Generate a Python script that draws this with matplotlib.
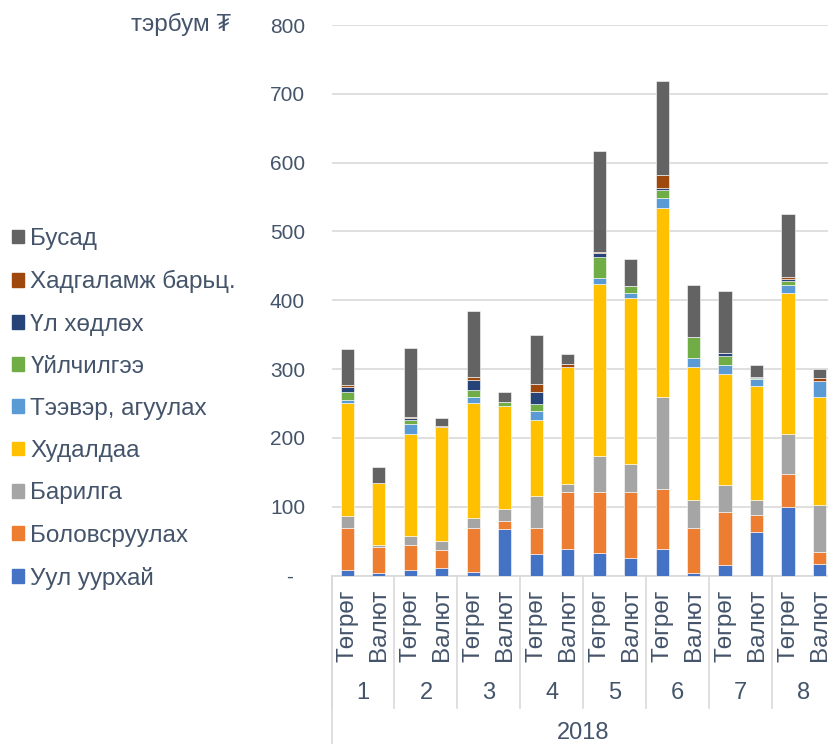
import matplotlib
matplotlib.use("Agg")
import matplotlib.pyplot as plt
import matplotlib.patches as mpatches
import numpy as np

plt.rcParams["font.family"] = ["Liberation Sans", "DejaVu Sans"]

# ── data (тэрбум ₮) ─────────────────────────────────────────────────────────
months   = ["1", "2", "3", "4", "5", "6", "7", "8"]
curr     = ["Төгрөг", "Валют"]
year     = "2018"
sectors  = ["Уул уурхай", "Боловсруулах", "Барилга", "Худалдаа",
            "Тээвэр, агуулах", "Үйлчилгээ", "Үл хөдлөх",
            "Хадгаламж барьц.", "Бусад"]
colors   = ["#4472c4", "#ed7d31", "#a5a5a5", "#ffc000",
            "#5b9bd5", "#70ad47", "#264478", "#9e480e", "#636363"]

# order of bars: 1 Төгрөг, 1 Валют, 2 Төгрөг, ... 8 Валют
uul   = [8, 3, 8, 11, 5, 67, 31, 38, 32, 26, 38, 3, 15, 63, 99, 17]
bolov = [61, 38, 37, 26, 64, 12, 38, 83, 89, 95, 88, 66, 77, 25, 49, 17]
baril = [17, 3, 13, 13, 15, 17, 46, 12, 53, 41, 134, 40, 39, 21, 57, 69]
hudal = [164, 91, 148, 166, 166, 151, 111, 170, 249, 241, 274, 194, 162, 167, 205, 157]
teev  = [5, 0, 14, 0, 9, 0, 13, 0, 10, 8, 14, 13, 13, 10, 12, 23]
uilch = [12, 0, 6, 0, 11, 5, 10, 0, 30, 9, 12, 30, 13, 1, 6, 0]
ulhod = [7, 0, 3, 0, 14, 0, 18, 0, 5, 0, 3, 0, 4, 2, 3, 0]
hadg  = [3, 0, 2, 1, 4, 0, 11, 5, 2, 0, 19, 0, 1, 0, 3, 4.5]
busad = [52, 22, 99, 12, 96, 15, 72, 14, 147, 40, 136, 76, 90, 17, 91, 12]

series = [uul, bolov, baril, hudal, teev, uilch, ulhod, hadg, busad]

yticks  = [0, 100, 200, 300, 400, 500, 600, 700, 800]
ylabels = ["-  ", "100", "200", "300", "400", "500", "600", "700", "800"]

txt_col  = "#44546a"
grid_col = "#d9d9d9"

W, H = 829, 744
fig = plt.figure(figsize=(W / 100, H / 100), dpi=100)

# plot area in pixel coords
x0, x1 = 331.5, 829
y_top, y_bot = 25, 575.5
ax = fig.add_axes([x0 / W, 1 - y_bot / H, (x1 - x0) / W, (y_bot - y_top) / H])

x = np.arange(len(uul))
bottom = np.zeros(len(x))
handles = []
for vals, name, c in zip(series, sectors, colors):
    v = np.array(vals, dtype=float)
    ax.bar(x, v, bottom=bottom, width=0.42, color=c, edgecolor="white",
           linewidth=0.4, zorder=3)
    bottom += v
    handles.append(mpatches.Patch(color=c, label=name))

ax.set_xlim(-0.5, 15.3)
ax.set_ylim(0, 800)
ax.set_yticks(yticks)
ax.set_yticklabels(ylabels)
ax.tick_params(axis="y", length=0, pad=19, labelsize=15, labelcolor=txt_col)
ax.tick_params(axis="x", length=0, labelbottom=False)
ax.yaxis.grid(True, color=grid_col, lw=1.2, zorder=0)
for s in ["top", "right", "left"]:
    ax.spines[s].set_visible(False)
ax.spines["bottom"].set_color(grid_col)
ax.spines["bottom"].set_linewidth(1.2)

# ── multi-level category axis ──────────────────────────────────────────────
tr = ax.get_xaxis_transform()
ph = y_bot - y_top


def ypix(py):
    # pixel row (from top of figure) -> axes y fraction
    return (y_bot - py) / ph


for i in range(len(x)):
    ax.text(i, ypix(589), curr[i % 2], transform=tr, rotation=90,
            ha="center", va="top", fontsize=17.5, color=txt_col, clip_on=False)

for k, m in enumerate(months):
    ax.text(2 * k + 0.5, ypix(693), m, transform=tr, ha="center",
            va="center", fontsize=17, color=txt_col, clip_on=False)
    ax.plot([2 * k - 0.5, 2 * k - 0.5], [0, ypix(708)], transform=tr,
            color=grid_col, lw=1.2, clip_on=False)
ax.plot([-0.5, -0.5], [0, ypix(744)], transform=tr, color=grid_col,
        lw=1.2, clip_on=False)
ax.text(7.5, ypix(733), year, transform=tr, ha="center", va="center",
        fontsize=17, color=txt_col, clip_on=False)

# unit label
fig.text(231 / W, 1 - 24 / H, "тэрбум ₮", ha="right", va="center",
         fontsize=17.5, color=txt_col)

# legend (reverse order, Бусад on top)
leg = fig.legend(handles[::-1], sectors[::-1], loc="upper left",
                 bbox_to_anchor=(0.0, 1 - 216 / H), frameon=False,
                 fontsize=17.5, labelcolor=txt_col, handlelength=0.5,
                 handleheight=0.5, handletextpad=0.25, labelspacing=0.83,
                 borderaxespad=0.3, borderpad=0.2)

fig.savefig("out.png", dpi=100)
